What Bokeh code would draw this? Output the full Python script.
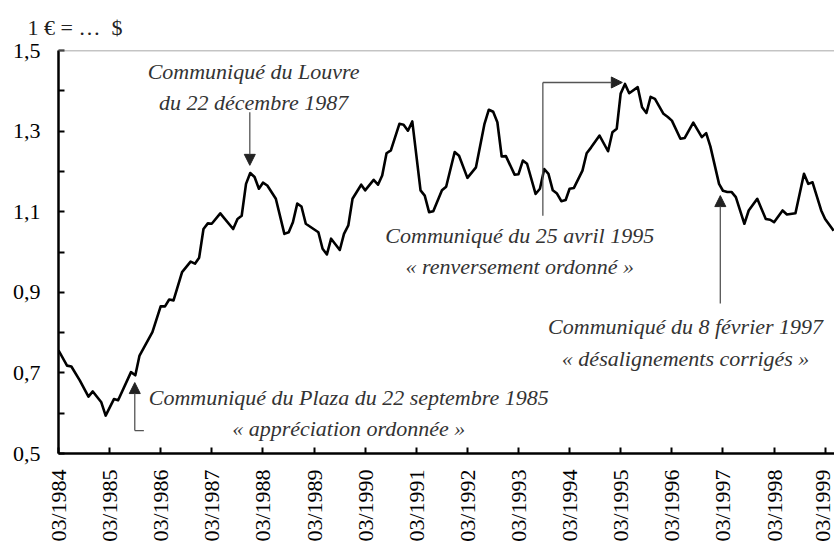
import math
import pandas as pd
from bokeh.plotting import figure
from bokeh.models import (Range1d, FixedTicker, DatetimeTickFormatter, CustomJSTickFormatter,
                          Label, Arrow, NormalHead, Span, ColumnDataSource)
from bokeh.embed import file_html
from bokeh.resources import INLINE

# ---- data: 1 EUR (ECU) = ... USD, monthly ----
dates = ["1984-03", "1984-05", "1984-06", "1984-08", "1984-10", "1984-11", "1985-01", "1985-02",
         "1985-04", "1985-05", "1985-08", "1985-09", "1985-10", "1986-01", "1986-03", "1986-04",
         "1986-05", "1986-06", "1986-08", "1986-10", "1986-11", "1986-12", "1987-01", "1987-02",
         "1987-03", "1987-05", "1987-08", "1987-09", "1987-10", "1987-11", "1987-12", "1988-01",
         "1988-02", "1988-03", "1988-04", "1988-06", "1988-08", "1988-09", "1988-10", "1988-11",
         "1988-12", "1989-01", "1989-04", "1989-05", "1989-06", "1989-07", "1989-09", "1989-10",
         "1989-11", "1989-12", "1990-02", "1990-03", "1990-05", "1990-06", "1990-07", "1990-08",
         "1990-09", "1990-11", "1990-12", "1991-01", "1991-02", "1991-04", "1991-05", "1991-06",
         "1991-07", "1991-09", "1991-10", "1991-12", "1992-01", "1992-03", "1992-05", "1992-07",
         "1992-08", "1992-09", "1992-10", "1992-11", "1992-12", "1993-02", "1993-03", "1993-04",
         "1993-05", "1993-07", "1993-08", "1993-09", "1993-10", "1993-11", "1993-12", "1994-01",
         "1994-02", "1994-03", "1994-04", "1994-06", "1994-07", "1994-08", "1994-10", "1994-12",
         "1995-01", "1995-02", "1995-03", "1995-04", "1995-05", "1995-07", "1995-08", "1995-09",
         "1995-10", "1995-11", "1996-01", "1996-02", "1996-03", "1996-05", "1996-06", "1996-08",
         "1996-10", "1996-11", "1996-12", "1997-02", "1997-03", "1997-04", "1997-05", "1997-06",
         "1997-08", "1997-09", "1997-11", "1998-01", "1998-02", "1998-03", "1998-05", "1998-06",
         "1998-08", "1998-10", "1998-11", "1998-12", "1999-02", "1999-03", "1999-05"]
eur_usd = [0.756, 0.718, 0.716, 0.681, 0.641, 0.654, 0.627, 0.594,
           0.635, 0.632, 0.702, 0.694, 0.743, 0.801, 0.865, 0.865,
           0.882, 0.880, 0.950, 0.976, 0.971, 0.986, 1.057, 1.071,
           1.070, 1.096, 1.057, 1.082, 1.090, 1.169, 1.196, 1.186,
           1.157, 1.172, 1.165, 1.132, 1.045, 1.049, 1.074, 1.120,
           1.113, 1.070, 1.049, 1.008, 0.994, 1.033, 1.005, 1.045,
           1.066, 1.132, 1.167, 1.153, 1.179, 1.167, 1.190, 1.245,
           1.252, 1.318, 1.316, 1.301, 1.324, 1.153, 1.140, 1.099,
           1.101, 1.153, 1.162, 1.248, 1.239, 1.184, 1.210, 1.318,
           1.353, 1.348, 1.322, 1.237, 1.238, 1.192, 1.193, 1.227,
           1.219, 1.144, 1.157, 1.206, 1.194, 1.153, 1.145, 1.126,
           1.129, 1.157, 1.159, 1.202, 1.245, 1.259, 1.289, 1.250,
           1.297, 1.306, 1.393, 1.417, 1.394, 1.409, 1.359, 1.345,
           1.385, 1.380, 1.343, 1.335, 1.326, 1.281, 1.283, 1.321,
           1.285, 1.295, 1.262, 1.169, 1.152, 1.149, 1.149, 1.136,
           1.070, 1.103, 1.132, 1.082, 1.080, 1.074, 1.103, 1.093,
           1.096, 1.194, 1.169, 1.173, 1.103, 1.082, 1.053]
tick_dates = ["%d-03-01" % y for y in range(1984, 2000)]
y_major = [0.5, 0.7, 0.9, 1.1, 1.3, 1.5]
y_minor = [0.6, 0.8, 1.0, 1.2, 1.4]
unit_label = "1 \u20ac = \u2026 \u00a0$"


def ms(d):
    return pd.Timestamp(d).value / 1e6


SERIF = "Liberation Serif"

src = ColumnDataSource(dict(date=pd.to_datetime(dates, format="%Y-%m"), rate=eur_usd))

p = figure(width=834, height=547, output_backend="svg", toolbar_location=None,
           x_axis_type="datetime",
           x_range=Range1d(ms("1984-03-01"), ms("1999-05-07")),
           y_range=Range1d(0.5, 1.5),
           min_border_left=58, min_border_right=0, min_border_top=50, min_border_bottom=94)
p.xgrid.visible = False
p.ygrid.visible = False
p.outline_line_color = None
p.background_fill_color = "white"
p.border_fill_color = "white"

# unit label as a left-aligned title above the frame
p.title.text = unit_label
p.title.align = "left"
p.title.vertical_align = "top"
p.title.offset = -31
p.title.standoff = 18
p.title.text_line_height = 1.0
try:
    p.title.padding = 0
except Exception:
    pass
p.title.text_font = SERIF
p.title.text_font_size = "22px"
p.title.text_font_style = "normal"
p.title.text_color = "#222"

xa = p.xaxis[0]
xa.ticker = FixedTicker(ticks=[ms(d) for d in tick_dates], minor_ticks=[])
fmt = "%m/%Y"
xa.formatter = DatetimeTickFormatter(years=fmt, months=fmt, days=fmt, hours=fmt, minutes=fmt,
                                     seconds=fmt, milliseconds=fmt, microseconds=fmt,
                                     hourmin=fmt, minsec=fmt)
xa.major_label_orientation = math.pi / 2
ya = p.yaxis[0]
ya.ticker = FixedTicker(ticks=y_major, minor_ticks=y_minor)
ya.formatter = CustomJSTickFormatter(code="return tick.toFixed(1).replace('.', ',');")

for ax in (xa, ya):
    ax.axis_line_color = "black"
    ax.axis_line_width = 2.5
    ax.major_tick_in = 6
    ax.major_tick_out = 0
    ax.minor_tick_in = 6
    ax.minor_tick_out = 0
    ax.major_tick_line_width = 2
    ax.minor_tick_line_width = 2
    ax.major_tick_line_color = "black"
    ax.minor_tick_line_color = "black"
    ax.major_label_text_font = SERIF
    ax.major_label_text_font_size = "22px"
    ax.major_label_text_color = "black"
xa.major_label_standoff = 16
ya.major_label_standoff = 18

p.add_layout(Span(location=1.5, dimension="width", line_color="#8a8a8a", line_width=1.5))

p.line("date", "rate", source=src, line_color="black", line_width=2.6, line_join="round")

notes = [
    ("1987-12-25", 1.448, "Communiqué du Louvre"),
    ("1987-12-25", 1.371, "du 22 décembre 1987"),
    ("1993-03-10", 1.041, "Communiqué du 25 avril 1995"),
    ("1993-03-10", 0.964, "« renversement ordonné »"),
    ("1996-06-07", 0.815, "Communiqué du 8 février 1997"),
    ("1996-06-07", 0.736, "« désalignements corrigés »"),
    ("1989-11-04", 0.640, "Communiqué du Plaza du 22 septembre 1985"),
    ("1989-11-04", 0.561, "« appréciation ordonnée »"),
]
for xd, yv, t in notes:
    p.add_layout(Label(x=ms(xd), y=yv, text=t, text_font=SERIF, text_font_size="22px",
                       text_font_style="italic", text_color="#333", text_align="center",
                       text_baseline="middle"))

ARROW_C = "#555555"


def arrow(x0, y0, x1, y1):
    p.add_layout(Arrow(end=NormalHead(size=11, fill_color="#222", line_color="#222"),
                       x_start=ms(x0), y_start=y0, x_end=ms(x1), y_end=y1,
                       line_color=ARROW_C, line_width=1.3))


def seg(x0, y0, x1, y1):
    p.line([ms(x0), ms(x1)], [y0, y1], line_color=ARROW_C, line_width=1.3)


# Louvre
arrow("1987-11-28", 1.347, "1987-11-28", 1.215)
# Plaza
seg("1985-11-01", 0.557, "1985-08-28", 0.557)
arrow("1985-08-28", 0.557, "1985-08-28", 0.676)
# April 1995
seg("1993-08-22", 1.09, "1993-08-22", 1.4206)
arrow("1993-08-22", 1.4206, "1995-03-13", 1.4206)
# February 1997
arrow("1997-02-10", 0.872, "1997-02-10", 1.14)

open("out.html", "w").write(file_html(p, INLINE))
